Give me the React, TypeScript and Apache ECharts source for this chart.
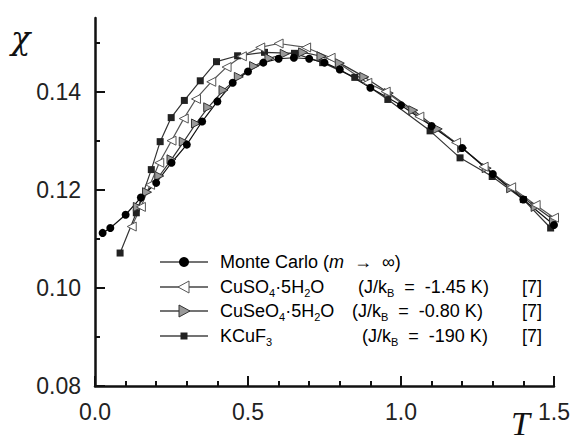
import React, { useEffect, useRef } from "react";
import * as echarts from "echarts";

const mcT = [0.025, 0.05, 0.1, 0.15, 0.2, 0.25, 0.3, 0.35, 0.4, 0.45, 0.5, 0.55, 0.6, 0.65, 0.7, 0.75, 0.8, 0.9, 1.0, 1.1, 1.2, 1.3, 1.4, 1.5];
const mcChi = [0.1112, 0.1122, 0.1149, 0.1184, 0.1214, 0.1255, 0.1292, 0.1339, 0.138, 0.1418, 0.1441, 0.1459, 0.1467, 0.1469, 0.1467, 0.1459, 0.1445, 0.1408, 0.1372, 0.133, 0.1285, 0.1232, 0.118, 0.1128];

const cuso4T = [0.12, 0.15, 0.18, 0.21, 0.25, 0.29, 0.33, 0.38, 0.43, 0.48, 0.54, 0.6, 0.69, 0.77, 0.89, 0.95, 1.06, 1.18, 1.27, 1.36, 1.44, 1.5];
const cuso4Chi = [0.1125, 0.1165, 0.121, 0.1255, 0.13, 0.1345, 0.1385, 0.142, 0.145, 0.1472, 0.149, 0.1498, 0.149, 0.1469, 0.1418, 0.14, 0.1349, 0.1296, 0.1247, 0.1205, 0.1169, 0.1143];

const cuseo4T = [0.14, 0.17, 0.21, 0.25, 0.29, 0.33, 0.37, 0.42, 0.47, 0.52, 0.57, 0.62, 0.68, 0.74, 0.8, 0.88, 0.96, 1.04, 1.12, 1.2, 1.28, 1.36, 1.44, 1.5];
const cuseo4Chi = [0.1165, 0.1195, 0.1228, 0.1262, 0.1298, 0.1335, 0.1368, 0.1403, 0.143, 0.1452, 0.1468, 0.1477, 0.148, 0.1472, 0.1458, 0.143, 0.1397, 0.1362, 0.1324, 0.1285, 0.1244, 0.1203, 0.1165, 0.1138];

const kcuf3T = [0.082, 0.135, 0.184, 0.213, 0.249, 0.292, 0.344, 0.397, 0.466, 0.554, 0.652, 0.744, 0.849, 0.957, 1.095, 1.193, 1.298, 1.4, 1.489];
const kcuf3Chi = [0.1071, 0.1153, 0.1241, 0.1298, 0.1347, 0.1382, 0.1422, 0.1461, 0.1473, 0.148, 0.1478, 0.1459, 0.1429, 0.1384, 0.132, 0.1265, 0.1227, 0.118, 0.1122];

const yMajorTicks = [0.08, 0.1, 0.12, 0.14];
const yMinorTicks = [0.09, 0.11, 0.13, 0.15];

const zip = (xs: number[], ys: number[]) => xs.map((x, i) => [x, ys[i]]);

const FONT = "Liberation Sans, Arial, sans-serif";

export default function App() {
  const ref = useRef<HTMLDivElement>(null);
  useEffect(() => {
    if (!ref.current) return;
    const chart = echarts.init(ref.current, null, { renderer: "svg" });
    const lineColor = "#333";
    const rich = {
      n: { fontSize: 18, fontFamily: FONT, color: "#222", lineHeight: 22 },
      i: { fontSize: 18, fontFamily: FONT, fontStyle: "italic", color: "#222", lineHeight: 22 },
      s: { fontSize: 11, fontFamily: FONT, color: "#222", lineHeight: 11, verticalAlign: "bottom" },
    };
    const legendRow = (y: number, marker: any, name: string, jx?: number, j?: string) => {
      const els: any[] = [
        { type: "line", shape: { x1: 160, y1: y, x2: 208, y2: y }, style: { stroke: "#444", lineWidth: 1.3 } },
        marker,
        { type: "text", x: 220, y: y, style: { text: name, rich, verticalAlign: "middle", align: "left" } },
      ];
      if (j && jx) {
        els.push({ type: "text", x: jx, y: y, style: { text: j, rich, verticalAlign: "middle", align: "left" } });
        els.push({ type: "text", x: 522, y: y, style: { text: "{n|[7]}", rich, verticalAlign: "middle", align: "left" } });
      }
      return els;
    };
    const graphics: any[] = [
      ...legendRow(262, { type: "circle", shape: { cx: 184, cy: 262, r: 5 }, style: { fill: "#000" } }, "{n|Monte Carlo (}{i|m}{n|  →  ∞)}"),
      ...legendRow(
        287,
        { type: "polygon", shape: { points: [[178, 287], [189, 281], [189, 293]] }, style: { fill: "#fff", stroke: "#555", lineWidth: 1 } },
        "{n|CuSO}{s|4}{n|·5H}{s|2}{n|O}",
        358,
        "{n|(J/k}{s|B}{n|  =  -1.45 K)}"
      ),
      ...legendRow(
        311,
        { type: "polygon", shape: { points: [[190, 311], [179, 305], [179, 317]] }, style: { fill: "#999", stroke: "#333", lineWidth: 1 } },
        "{n|CuSeO}{s|4}{n|·5H}{s|2}{n|O}",
        352,
        "{n|(J/k}{s|B}{n|  =  -0.80 K)}"
      ),
      ...legendRow(
        336,
        { type: "rect", shape: { x: 180.5, y: 332.5, width: 7, height: 7 }, style: { fill: "#222" } },
        "{n|KCuF}{s|3}",
        362,
        "{n|(J/k}{s|B}{n|  =  -190 K)}"
      ),
      { type: "text", x: 11, y: 22, style: { text: "χ", fontSize: 32, fontStyle: "italic", fontFamily: "DejaVu Serif, Liberation Serif, serif", fill: "#111" } },
      { type: "text", x: 511, y: 406, style: { text: "T", fontSize: 34, fontStyle: "italic", fontFamily: "Liberation Serif, serif", fill: "#111" } },
    ];
    chart.setOption({
      animation: false,
      backgroundColor: "#fff",
      grid: { left: 95, right: 22, top: 18, bottom: 53 },
      xAxis: {
        type: "value",
        min: 0,
        max: 1.5,
        interval: 0.5,
        axisLine: { show: true, lineStyle: { color: "#111", width: 2.5 } },
        axisTick: { show: true, inside: true, length: 10, lineStyle: { color: "#111", width: 2 } },
        minorTick: { show: true, splitNumber: 5, length: 5, lineStyle: { color: "#111", width: 2 } },
        splitLine: { show: false },
        minorSplitLine: { show: false },
        axisLabel: { fontSize: 23, fontFamily: FONT, color: "#222", margin: 14, formatter: (v: number) => v.toFixed(1) },
      },
      yAxis: [
        {
          type: "value",
          min: 0.08,
          max: 0.155,
          axisLine: { show: true, onZero: false, lineStyle: { color: "#111", width: 2.5 } },
          axisTick: { show: true, inside: true, length: 10, customValues: yMajorTicks, lineStyle: { color: "#111", width: 2 } },
          splitLine: { show: false },
          axisLabel: { fontSize: 23, fontFamily: FONT, color: "#222", margin: 14, customValues: yMajorTicks, formatter: (v: number) => v.toFixed(2) },
        },
        {
          type: "value",
          min: 0.08,
          max: 0.155,
          position: "left",
          axisLine: { show: false },
          axisTick: { show: true, inside: true, length: 5, customValues: yMinorTicks, lineStyle: { color: "#111", width: 2 } },
          splitLine: { show: false },
          axisLabel: { show: false },
        },
      ],
      series: [
        {
          type: "line",
          name: "KCuF3",
          data: zip(kcuf3T, kcuf3Chi),
          symbol: "rect",
          symbolSize: 7,
          lineStyle: { color: lineColor, width: 1.2 },
          itemStyle: { color: "#222" },
        },
        {
          type: "line",
          name: "CuSeO4",
          data: zip(cuseo4T, cuseo4Chi),
          symbol: "triangle",
          symbolRotate: -90,
          symbolSize: 9,
          lineStyle: { color: lineColor, width: 1.2 },
          itemStyle: { color: "#999", borderColor: "#333", borderWidth: 1 },
        },
        {
          type: "line",
          name: "CuSO4",
          data: zip(cuso4T, cuso4Chi),
          symbol: "triangle",
          symbolRotate: 90,
          symbolSize: 9,
          lineStyle: { color: "#555", width: 1.2 },
          itemStyle: { color: "#fff", borderColor: "#555", borderWidth: 1 },
        },
        {
          type: "line",
          name: "Monte Carlo",
          data: zip(mcT, mcChi),
          symbol: "circle",
          symbolSize: 8,
          lineStyle: { color: "#111", width: 1.2 },
          itemStyle: { color: "#000" },
        },
      ],
      graphic: graphics,
    });
    return () => chart.dispose();
  }, []);
  return <div ref={ref} style={{ position: "fixed", left: 0, top: 0, width: 576, height: 439 }} />;
}
